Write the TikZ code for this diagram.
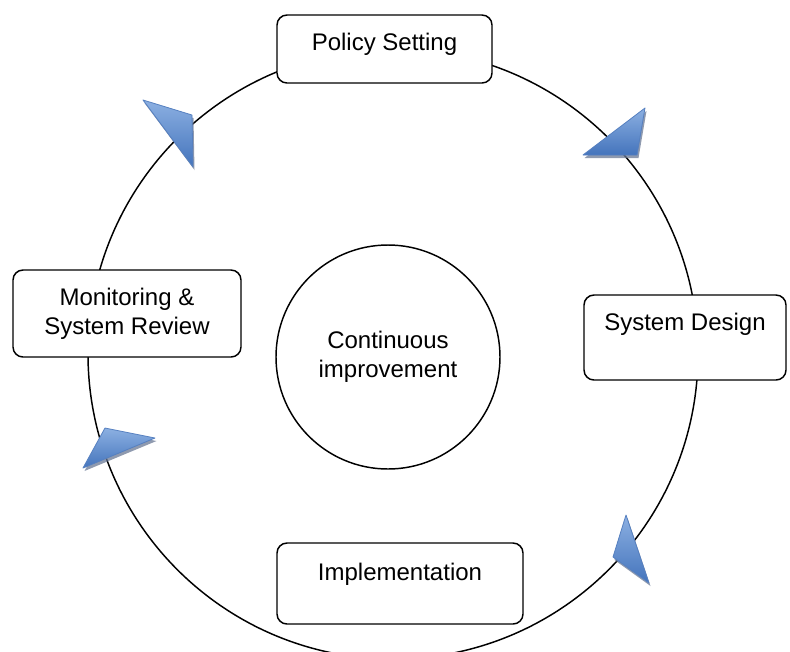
\documentclass[tikz,border=0pt]{standalone}
\usepackage{fontspec}
\setmainfont{Liberation Sans}
\definecolor{tipLight}{RGB}{140,176,226}
\definecolor{tipDark}{RGB}{68,116,188}
\definecolor{tipEdge}{RGB}{86,128,192}
\definecolor{tipShade}{RGB}{105,120,148}

\begin{document}
\begin{tikzpicture}
[x=0.75pt,y=-0.75pt,
  ringDecorate/.style={line width=1.1pt},%
  boxDecorate/.style={draw,line width=1.1pt,rounded corners=7.5pt,fill=white,align=center},%
  hubDecorate/.style={draw,circle,line width=1.1pt,minimum size=168pt,align=center},%
  tipDecorate/.style={draw=tipEdge,line width=0.6pt,line join=round,top color=tipLight,bottom color=tipDark},%
  tipShadow/.style={fill=tipShade,opacity=0.75}]
\fontsize{18}{21.6}\selectfont
\useasboundingbox (0,0) rectangle (790,651);
%% outer cycle
\draw[ringDecorate] (393,354) circle[radius=228.75pt];
%% hub in the middle
\node[hubDecorate] (hub) at (388,357) {Continuous\\improvement};
%% stages on the cycle
\foreach \nodename/\x/\y/\boxw/\boxh/\boxdp/\stage in {
  policy/384.5/49/161.25pt/51pt/11.5pt/{Policy Setting},
  design/685/337.5/151.5pt/63.75pt/24.25pt/{System Design},
  rollout/400/583.5/184.5pt/60.75pt/18.25pt/{Implementation}}
{
  \node[boxDecorate,minimum width=\boxw,minimum height=\boxh,text height=13pt,text depth=\boxdp] (\nodename) at (\x,\y) {\stage};
}
\node[boxDecorate,minimum width=171pt,minimum height=65.25pt] (review) at (127,313.5) {Monitoring \&\\System Review};
%% arrow heads along the cycle
\foreach \ax/\ay/\bx/\by/\cx/\cy in {
  143/100/192/115/193/167, 583/155/645/108/637/155,
  105/428/155/438/83/468, 626/515/613/557/649/583}
{
  \fill[tipShadow,shift={(1.5,3)}] (\ax,\ay) -- (\bx,\by) -- (\cx,\cy) -- cycle;
  \draw[tipDecorate] (\ax,\ay) -- (\bx,\by) -- (\cx,\cy) -- cycle;
}
\end{tikzpicture}
\end{document}
